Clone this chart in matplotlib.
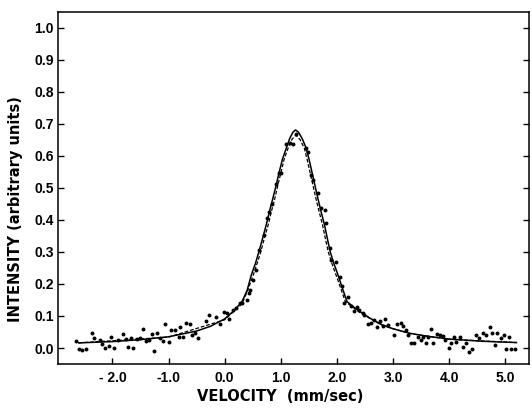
import matplotlib.pyplot as plt
import numpy as np

# measured points (velocity in mm/sec, intensity in arbitrary units)
vel = [-2.65, -2.60, -2.54, -2.47, -2.37, -2.33, -2.22, -2.19, -2.13, -2.06,
       -2.02, -1.97, -1.90, -1.82, -1.76, -1.72, -1.67, -1.63, -1.56, -1.51,
       -1.45, -1.41, -1.35, -1.30, -1.26, -1.20, -1.16, -1.10, -1.06, -1.00,
       -0.95, -0.88, -0.82, -0.79, -0.74, -0.69, -0.62, -0.59, -0.53, -0.47,
       -0.34, -0.28, -0.15, -0.09, -0.02, 0.04, 0.08, 0.15, 0.21, 0.27,
       0.31, 0.39, 0.43, 0.46, 0.50, 0.55, 0.62, 0.71, 0.75, 0.79,
       0.84, 0.91, 0.97, 1.01, 1.10, 1.16, 1.22, 1.28,
       1.45, 1.49, 1.54, 1.58, 1.66, 1.72, 1.78, 1.80,
       1.87, 1.90, 1.99, 2.05, 2.09, 2.13, 2.19, 2.25, 2.30,
       2.35, 2.40, 2.46, 2.49, 2.55, 2.61, 2.67, 2.71, 2.76, 2.82,
       2.86, 2.91, 3.01, 3.08, 3.14, 3.18, 3.23, 3.27, 3.32, 3.38,
       3.44, 3.50, 3.54, 3.59, 3.63, 3.68, 3.72, 3.78, 3.83, 3.89,
       3.93, 3.99, 4.03, 4.09, 4.13, 4.19, 4.24, 4.30, 4.36, 4.41,
       4.48, 4.54, 4.60, 4.66, 4.72, 4.77, 4.82, 4.86, 4.92, 4.98,
       5.02, 5.07, 5.10, 5.18]
inten = [0.022, -0.004, -0.006, -0.003, 0.048, 0.032, 0.024, 0.011, 0.000, 0.007,
         0.034, 0.000, 0.025, 0.045, 0.027, 0.004, 0.032, 0.000, 0.028, 0.030,
         0.058, 0.023, 0.024, 0.045, -0.009, 0.048, 0.030, 0.023, 0.074, 0.020,
         0.056, 0.056, 0.033, 0.065, 0.033, 0.077, 0.076, 0.041, 0.048, 0.031,
         0.084, 0.104, 0.096, 0.074, 0.113, 0.108, 0.091, 0.119, 0.124, 0.140,
         0.140, 0.150, 0.171, 0.182, 0.213, 0.244, 0.306, 0.353, 0.405, 0.426,
         0.449, 0.511, 0.546, 0.546, 0.636, 0.640, 0.636, 0.668,
         0.624, 0.613, 0.541, 0.525, 0.483, 0.436, 0.431, 0.389,
         0.311, 0.275, 0.270, 0.221, 0.194, 0.140, 0.158, 0.131, 0.116,
         0.127, 0.119, 0.108, 0.103, 0.075, 0.077, 0.088, 0.067, 0.085, 0.069,
         0.090, 0.072, 0.041, 0.075, 0.077, 0.069, 0.056, 0.041, 0.017, 0.017,
         0.033, 0.025, 0.033, 0.015, 0.033, 0.058, 0.015, 0.044, 0.041, 0.038,
         0.025, -0.001, 0.017, 0.033, 0.020, 0.035, 0.004, 0.017, -0.011, -0.004,
         0.041, 0.030, 0.048, 0.041, 0.067, 0.048, 0.009, 0.046, 0.030, 0.041,
         -0.004, 0.035, -0.004, -0.004]

# solid fitted curve
fit_v = [-2.6, -2.0, -1.5, -1.0, -0.5, -0.25, 0.0, 0.15, 0.31, 0.40,
         0.475, 0.55, 0.61, 0.68, 0.74, 0.80, 0.86, 0.92, 0.967, 1.03,
         1.098, 1.16, 1.22, 1.263, 1.31, 1.38, 1.453, 1.51, 1.56, 1.61,
         1.66, 1.72, 1.78, 1.83, 1.88, 1.95, 2.02, 2.10, 2.18, 2.30,
         2.4, 2.6, 2.8, 3.0, 3.3, 3.6, 4.0, 4.6, 5.2]
fit_i = [0.016, 0.020, 0.026, 0.035, 0.053, 0.068, 0.091, 0.114, 0.145, 0.180,
         0.228, 0.265, 0.301, 0.345, 0.384, 0.428, 0.468, 0.510, 0.546, 0.590,
         0.624, 0.655, 0.675, 0.681, 0.675, 0.655, 0.624, 0.585, 0.546, 0.507,
         0.468, 0.425, 0.384, 0.342, 0.301, 0.262, 0.228, 0.186, 0.145, 0.128,
         0.115, 0.092, 0.073, 0.060, 0.046, 0.037, 0.028, 0.021, 0.017]

# dashed curve
dash_v = [-2.6, -1.0, 0.0, 0.31, 0.41, 0.51, 0.58, 0.645, 0.71, 0.775,
          0.835, 0.895, 0.95, 1.0, 1.06, 1.13, 1.20, 1.27, 1.34, 1.42,
          1.475, 1.525, 1.575, 1.625, 1.685, 1.745, 1.795, 1.845, 1.915, 1.985,
          2.07, 2.15, 2.4, 2.8, 3.3, 4.0, 5.2]
dash_i = [0.016, 0.034, 0.088, 0.138, 0.180, 0.228, 0.265, 0.301, 0.345, 0.384,
          0.428, 0.468, 0.510, 0.546, 0.590, 0.624, 0.652, 0.665, 0.652, 0.624,
          0.585, 0.546, 0.507, 0.468, 0.425, 0.384, 0.342, 0.301, 0.262, 0.228,
          0.186, 0.145, 0.112, 0.071, 0.045, 0.027, 0.017]

x_ticks = [-2.0, -1.0, 0.0, 1.0, 2.0, 3.0, 4.0, 5.0]
x_labels = ['- 2.0', '-1.0', '0.0', '1.0', '2.0', '3.0', '4.0', '5.0']
y_ticks = [0.0, 0.1, 0.2, 0.3, 0.4, 0.5, 0.6, 0.7, 0.8, 0.9, 1.0]

fig = plt.figure(figsize=(5.32, 4.09), dpi=100)
ax = fig.add_axes([0.109, 0.110, 0.885, 0.861])

ax.plot(fit_v, fit_i, color='black', lw=1.1)
ax.plot(dash_v, dash_i, color='black', lw=0.9, ls=(0, (3, 1.5)))
ax.scatter(vel, inten, s=8, color='black', zorder=3, linewidths=0)

ax.set_xlim(-2.97, 5.42)
ax.set_ylim(-0.05, 1.05)

tick_font = dict(family='Liberation Sans', weight='bold', size=10)
ax.set_xticks(x_ticks)
ax.set_xticklabels(x_labels, **tick_font)
ax.set_yticks(y_ticks)
ax.set_yticklabels(['%.1f' % t for t in y_ticks], **tick_font)
ax.tick_params(direction='in', length=4, width=1, right=True, top=False)
ax.tick_params(axis='y', pad=3)
ax.tick_params(axis='x', pad=5)

label_font = dict(family='DejaVu Sans', weight='bold', size=10.5)
ax.set_xlabel('VELOCITY  (mm/sec)', labelpad=3, **label_font)
ax.set_ylabel('INTENSITY (arbitrary units)', labelpad=8, **label_font)
# labels sit a bit off-centre in the original
ax.xaxis.label.set_x(0.473)
ax.yaxis.label.set_y(0.44)

for s in ax.spines.values():
    s.set_linewidth(1.1)

fig.savefig('out.png', dpi=100)
